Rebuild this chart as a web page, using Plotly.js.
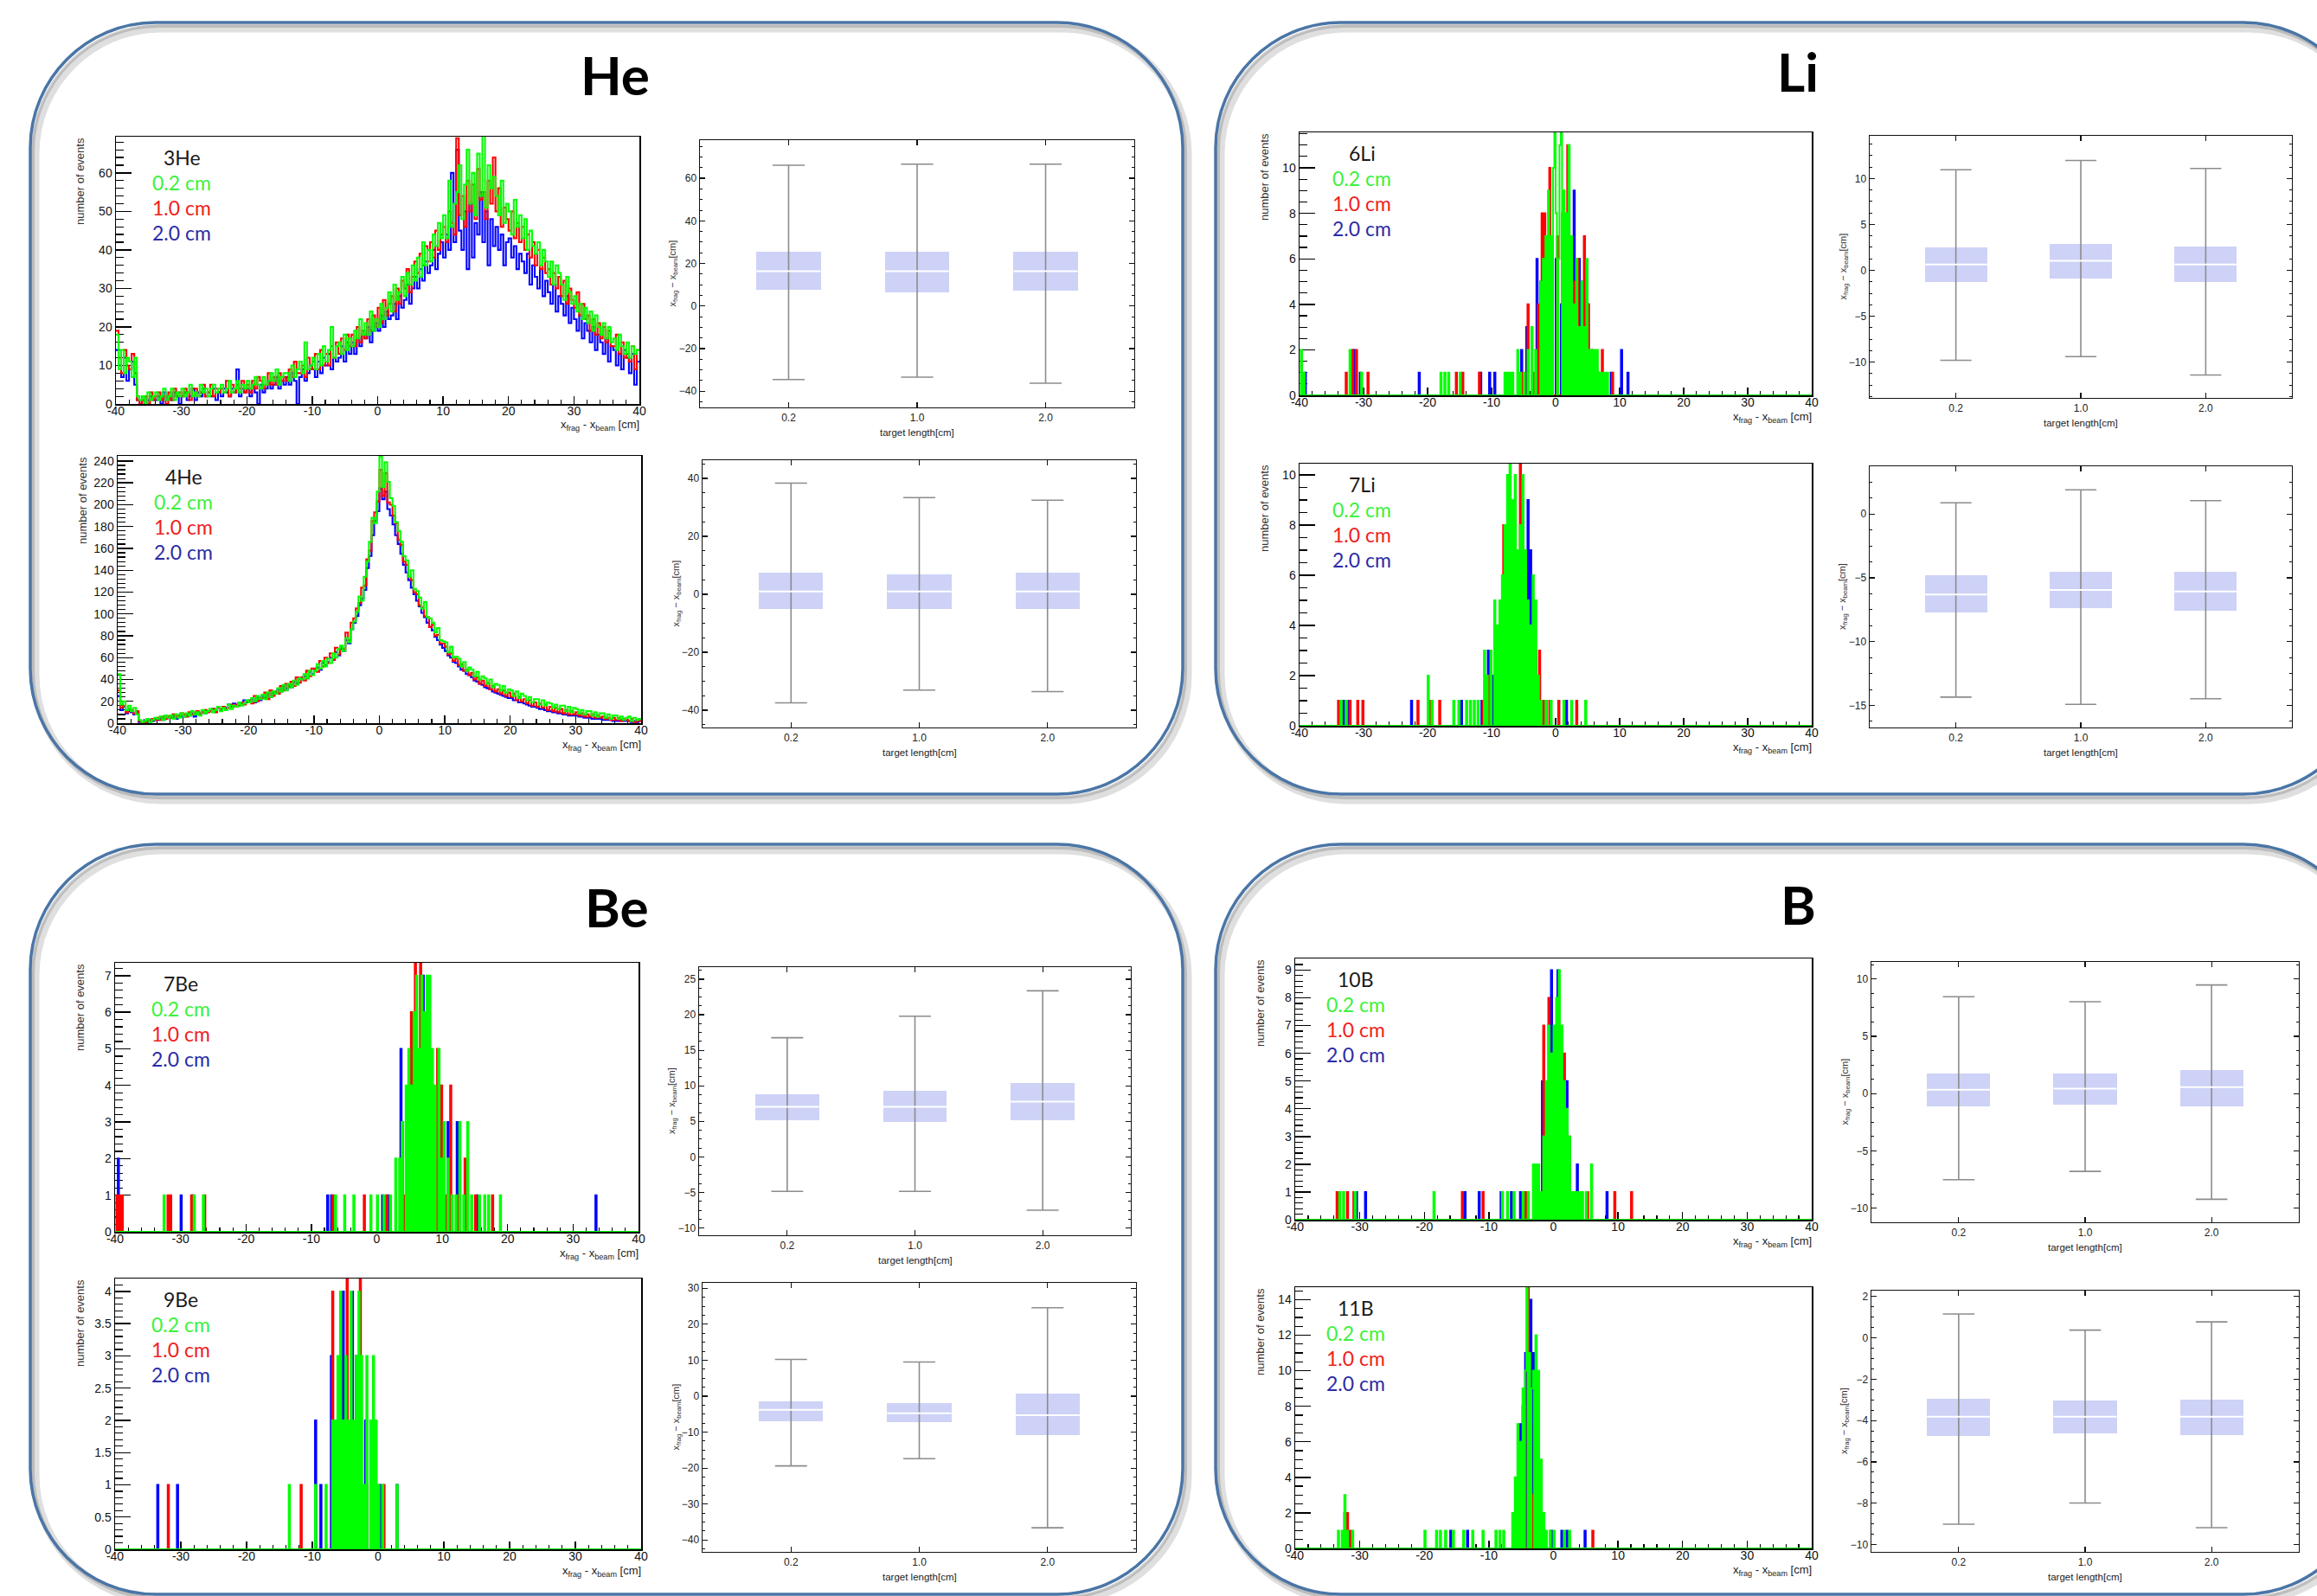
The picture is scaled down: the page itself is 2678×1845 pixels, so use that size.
<!DOCTYPE html>
<html><head><meta charset="utf-8">
<script src="https://cdn.plot.ly/plotly-3.0.1.min.js"></script>
<style>html,body{margin:0;padding:0;background:#fff}#chart{width:2678px;height:1845px}</style>
</head><body><div id="chart"></div>
<script>
// ---------------- DATA ----------------
const seriesLabels = ['0.2 cm', '1.0 cm', '2.0 cm'];
const boxCategories = ['0.2', '1.0', '2.0'];
const histXTickVals = [-40, -30, -20, -10, 0, 10, 20, 30, 40];
const histXTickText = ['-40', '-30', '-20', '-10', '0', '10', '20', '30', '40'];

// He: counts per 0.4 cm bin from -40 to 40 (200 bins, one row = 10 cm)
const he3_g = [
 18,9,14,8,12, 11,7,12,2,1, 2,0,3,1,2, 3,1,2,4,1, 2,4,1,3,2,
 4,2,3,5,2, 3,2,5,3,4, 2,4,5,3,4, 5,3,4,6,3, 4,6,3,5,4,
 6,4,5,7,5, 4,7,5,6,8, 6,9,5,7,8, 8,6,10,7,9, 11,8,16,9,10,
 12,9,13,10,15, 11,14,20,12,15, 16,13,18,14,17, 15,19,17,22,18, 21,18,24,19,22,
 20,26,22,25,29, 24,31,27,29,33, 28,34,31,36,32, 38,33,42,36,40, 37,44,41,47,43,
 49,43,58,46,52, 55,62,48,57,66, 52,60,49,65,54, 70,51,62,56,59, 54,49,58,47,52,
 50,44,53,46,49, 43,48,40,45,41, 39,42,36,40,37, 33,37,31,36,34, 31,27,33,29,26,
 28,24,26,22,25, 21,24,19,23,20, 18,21,17,20,16, 17,14,18,15,13, 16,12,15,13,14];
const he3_r = [
 19,12,8,14,10, 9,13,8,1,0, 1,2,0,3,1, 2,3,1,2,0, 3,1,4,2,3,
 2,4,3,1,4, 4,2,3,5,2, 3,5,2,4,3, 4,3,6,2,5, 3,5,4,6,3,
 5,3,6,4,7, 6,4,5,8,5, 7,5,8,6,7, 6,9,7,11,8, 8,10,7,12,9,
 11,13,9,14,10, 13,10,15,12,16, 13,17,14,18,15, 18,15,20,16,19, 17,22,19,23,20,
 25,21,27,23,26, 28,24,30,26,32, 30,35,29,33,37, 34,39,36,41,37, 42,38,45,40,44,
 46,42,50,47,44, 69,49,54,46,58, 50,57,48,61,53, 55,48,58,52,64, 50,56,46,51,48,
 45,50,43,47,42, 46,40,44,38,42, 36,40,35,38,34, 35,31,34,30,33, 28,32,26,30,27,
 25,29,23,26,22, 23,19,22,18,21, 17,20,16,19,15, 15,18,13,16,12, 13,11,15,9,14];
const he3_b = [
 14,10,7,12,6, 9,11,5,1,0, 2,0,1,2,1, 1,2,0,3,1, 2,1,3,2,0,
 2,3,1,2,4, 1,3,2,4,2, 3,2,4,1,3, 2,4,3,2,4, 3,9,2,4,3,
 4,2,5,3,0, 5,3,4,6,4, 5,7,4,6,5, 7,5,8,6,0, 7,9,6,8,10,
 9,7,11,8,12, 10,13,9,12,11, 12,15,11,16,13, 16,13,17,15,18, 17,20,16,19,21,
 19,23,20,24,22, 23,26,22,28,25, 27,31,26,30,33, 30,35,32,37,34, 36,40,35,39,42,
 38,44,40,60,42, 66,45,40,50,35, 52,38,47,44,55, 42,50,36,48,41, 46,40,44,36,42,
 43,38,41,35,39, 37,34,39,31,36, 33,30,35,28,32, 29,26,31,24,28, 26,23,28,21,25,
 22,19,23,17,21, 19,16,20,14,18, 16,13,17,11,15, 14,10,13,9,14, 12,8,13,5,11];
const he4_g = [
 45,17,20,12,16, 11,14,8,3,1, 2,4,1,3,5, 4,6,3,7,5, 7,4,8,5,9,
 6,9,7,11,8, 10,7,12,9,11, 13,10,12,15,11, 14,12,17,13,16, 15,19,16,18,21,
 19,23,20,25,22, 26,22,28,24,29, 27,32,29,35,30, 36,33,39,35,41, 40,45,41,48,44,
 48,54,50,57,52, 59,55,64,60,68, 71,66,78,74,86, 93,102,116,112,134, 148,166,188,183,212,
 244,216,239,221,206, 199,184,176,166,153, 149,134,140,123,121, 115,105,111,97,96, 92,83,87,76,75,
 74,65,70,60,61, 59,52,56,48,51, 49,43,47,40,43, 41,36,40,33,36, 35,30,34,28,31,
 30,25,29,23,27, 25,21,24,19,22, 22,17,21,16,19, 18,14,17,13,16, 16,11,15,10,14,
 13,9,12,8,11, 11,7,10,6,9, 9,5,8,4,7, 7,4,6,3,5, 6,2,5,3,4];
const he4_r = [
 30,14,16,10,13, 12,9,11,2,0, 1,3,2,4,3, 5,3,6,4,6, 5,8,6,7,9,
 8,6,10,8,9, 11,9,10,12,10, 11,13,10,14,13, 15,13,14,17,15, 17,16,19,17,20,
 21,18,25,20,23, 23,28,22,30,25, 29,27,34,30,36, 33,38,34,42,37, 42,39,48,43,50,
 50,47,57,52,60, 55,64,58,69,63, 70,68,83,76,92, 96,105,110,124,126, 150,158,185,193,203,
 232,208,229,202,200, 190,183,168,163,148, 145,134,131,120,118, 108,106,98,97,88, 90,80,81,73,73,
 70,63,64,57,59, 53,54,48,49,44, 46,40,42,36,39, 34,37,31,34,29, 31,27,30,25,28,
 24,27,21,24,20, 22,18,21,16,19, 15,18,14,17,12, 15,11,14,10,13, 9,12,8,11,8,
 10,7,9,6,8, 6,8,5,7,5, 6,4,5,3,5, 3,5,2,4,3, 2,4,1,3,2];
const he4_b = [
 25,12,15,9,11, 10,8,9,1,0, 2,1,3,2,4, 3,5,3,4,6, 5,6,4,7,6,
 6,8,7,9,6, 10,8,10,9,11, 11,13,12,14,12, 15,14,17,15,18, 17,19,18,21,19,
 20,22,19,24,21, 25,23,27,24,28, 28,31,29,34,31, 35,33,38,36,41, 40,43,41,47,45,
 48,51,49,55,53, 56,60,58,65,62, 68,66,76,73,86, 92,98,108,114,122, 142,153,172,185,194,
 215,205,212,196,190, 182,172,164,155,145, 138,131,124,118,112, 107,101,97,92,88, 85,79,76,72,69,
 66,62,60,56,55, 52,49,48,45,44, 42,39,38,36,35, 33,32,31,29,28, 27,26,25,24,23,
 23,21,21,19,19, 18,17,16,15,15, 14,13,13,12,11, 11,10,10,9,9, 8,8,7,7,7,
 7,6,6,5,5, 5,4,4,4,4, 3,3,3,3,2, 2,2,3,2,2, 2,1,2,1,2];

// Sparse histograms: [bin position (cm), events] in 0.2 cm bins
const li6_g = [[-39.8,2],[-39.4,1],[-32.2,2],[-30.4,1],[-18,1],[-17.4,1],[-16.8,1],[-15,1],[-8,1],[-7.6,1],[-7.2,1],[-6.8,1],[-6,2],[-5.6,1],[-5,1],[-4.4,2],[-3.8,3],[-3.2,2],[-2.4,5],[-2,6],[-1.6,7],[-1.2,9],[-0.8,7],[-0.4,10],[-0.2,12],[0,8],[0.4,6],[0.6,11],[0.8,12],[1.2,9],[1.6,8],[2,11],[2.4,7],[2.8,4],[3.2,6],[3.6,3],[4,5],[4.4,3],[4.8,6],[5.2,2],[5.6,2],[6,2],[6.4,2],[6.8,1],[7.2,1],[7.6,1],[8,1]];
const li6_r = [[-32.8,1],[-31.8,2],[-31.2,2],[-29.4,1],[-15.6,1],[-14.6,1],[-12,1],[-5.2,1],[-4.4,4],[-3.6,1],[-2.8,4],[-2.2,8],[-1.8,8],[-1,10],[-0.6,6],[0.2,7],[1,8],[1.4,6],[1.8,11],[2.2,7],[2.8,5],[3.4,6],[4.4,7],[5,4],[5.6,2],[6.6,1],[7.2,2],[8.8,1]];
const li6_b = [[-39.2,1],[-31.6,2],[-30.6,1],[-21.4,1],[-11.8,1],[-10.4,1],[-9.6,1],[-5.4,2],[-4.6,3],[-3,6],[-2.4,5],[-1.6,5],[-0.8,7],[0,6],[0.8,4],[1.6,3],[2.8,9],[3.6,6],[4,5],[4.6,3],[5,4],[6.6,1],[8.6,1],[10.2,2],[11.2,1]];
const li7_g = [[-33.6,1],[-32.8,1],[-20,2],[-19.4,1],[-16,1],[-15.2,1],[-14,1],[-13.4,1],[-12.8,1],[-12.2,1],[-11.2,3],[-10.8,2],[-10.2,3],[-9.6,5],[-9.2,4],[-8.8,5],[-8.4,6],[-8,8],[-7.6,10],[-7.2,11],[-6.8,9],[-6.4,10],[-6,7],[-5.6,8],[-5.2,10],[-4.8,7],[-4.4,5],[-4,4],[-3.6,6],[-3.2,5],[-2.8,2],[-2.4,1],[-1.6,1],[-0.8,1],[1.2,1],[2.4,1],[4.6,1]];
const li7_r = [[-34,1],[-32.2,1],[-31,1],[-30.2,1],[-21.6,1],[-19.6,1],[-18.2,1],[-11.4,1],[-10.4,2],[-9.6,4],[-8.8,3],[-8.2,8],[-7.8,6],[-7,5],[-6.6,9],[-6.2,4],[-5.6,11],[-5.2,10],[-4.6,5],[-4,3],[-3.2,2],[-2.6,3],[-2,1],[-1,1],[0.4,1],[3.2,1]];
const li7_b = [[-33.2,1],[-32.4,1],[-22.6,1],[-14.8,1],[-11.6,1],[-10.6,3],[-9.8,2],[-8.6,5],[-7.8,7],[-7,9],[-6.4,4],[-6,2],[-5.4,9],[-4.4,9],[-4,7],[-3.2,3],[-1.6,1],[1.6,1]];
const be7_g = [[-32.6,1],[-28,1],[-26.6,1],[-6.4,1],[-5,1],[-3.6,1],[-1,1],[0,1],[1,1],[2,1],[2.8,2],[3.4,2],[3.8,3],[4.4,4],[4.8,5],[5.2,4],[5.6,6],[6,7],[6.4,5],[6.8,7],[7.2,6],[7.6,7],[8,7],[8.4,5],[8.8,4],[9.4,5],[9.8,2],[10.2,3],[10.8,2],[11.4,1],[12,1],[12.6,3],[13.2,1],[13.8,3],[14.4,1],[15.6,1],[16.4,1],[17,1],[18.8,1]];
const be7_r = [[-39.8,1],[-39.4,1],[-39,1],[-32,1],[-31.6,1],[-28.4,1],[-26.4,1],[-6.8,1],[-2,1],[1.4,1],[3.8,3],[4.2,1],[5.2,6],[5.8,8],[6.2,3],[6.6,8],[7.2,6],[7.8,2],[8.4,4],[9.2,5],[9.8,4],[10.4,1],[11.2,4],[12.2,1],[13.4,2],[15,1],[17.6,1]];
const be7_b = [[-39.6,2],[-30,1],[-28.2,1],[-7.6,1],[-7,1],[0.8,1],[1.6,1],[3.6,5],[4.8,3],[6.2,1],[7,7],[7.8,2],[8.6,3],[10.8,3],[12.2,3],[13.6,1],[15.2,1],[33.4,1]];
const be9_g = [[-13.6,1],[-9.6,1],[-8,1],[-7,2],[-6.6,2],[-6.2,3],[-5.8,4],[-5.4,2],[-5,3],[-4.6,2],[-4.2,4],[-3.8,2],[-3.4,3],[-3,4],[-2.6,3],[-2.2,1],[-1.8,3],[-1.2,2],[-0.8,3],[-0.4,2],[0,1],[0.6,1],[2.8,1]];
const be9_r = [[-32,1],[-11.8,1],[-7,4],[-6.4,1],[-5.6,2],[-4.8,5],[-4.4,1],[-2.8,5],[-1.8,1],[-1,2],[0.8,1]];
const be9_b = [[-33.6,1],[-30.6,1],[-9.6,2],[-8.8,1],[-7.2,3],[-6,1],[-5.4,4],[-4,4],[-3.4,3],[-2,2],[-1.2,2],[0.2,1],[2.8,1]];
const b10_g = [[-33.2,1],[-32.6,1],[-30.8,1],[-18.6,1],[-8,1],[-7.2,1],[-6.2,1],[-4.8,1],[-4,1],[-3.2,2],[-2.8,2],[-2.4,2],[-2,1],[-1.6,3],[-1.2,5],[-0.8,7],[-0.4,6],[0,7],[0.4,8],[0.8,9],[1.2,7],[1.6,5],[2,4],[2.4,3],[2.8,1],[3.2,1],[3.6,1],[4,1],[4.4,1],[5,1],[5.8,2]];
const b10_r = [[-33.6,1],[-32,1],[-31,1],[-14.2,1],[-11,1],[-4.4,1],[-3,1],[-2.4,1],[-1.6,7],[-1.2,4],[-0.8,8],[-0.2,6],[0.4,7],[1,6],[1.6,6],[2.4,3],[3,1],[5.2,1],[9.4,1],[12,1]];
const b10_b = [[-30.6,1],[-29.2,1],[-13.8,1],[-11.6,1],[-8.2,1],[-6.6,1],[-5.2,1],[-3,2],[-1.8,5],[-1.4,2],[-0.4,9],[0.2,6],[0.6,9],[1.2,3],[2,5],[3.6,2],[4.2,1],[8.2,1]];
const b11_g = [[-33.4,1],[-32.8,1],[-32.4,3],[-32,1],[-31.2,1],[-20,1],[-18.2,1],[-17.6,1],[-16.8,1],[-15.6,1],[-14,1],[-12.6,1],[-11,1],[-9,1],[-8.4,1],[-7.8,1],[-6.4,2],[-6,4],[-5.6,7],[-5.2,6],[-4.8,9],[-4.4,10],[-4.2,15],[-3.8,11],[-3.4,9],[-3.2,10],[-2.8,12],[-2.4,10],[-2,5],[-1.6,2],[-1.2,1],[-0.6,1],[0,1],[1.6,1],[2.4,1]];
const b11_r = [[-32,2],[-31.6,1],[-6.2,2],[-5.6,3],[-5,5],[-4.6,8],[-4,15],[-3.6,7],[-3.4,3],[-3,9],[-2.6,5],[-2,1],[6,1]];
const b11_b = [[-32.4,2],[-16,1],[-13.4,1],[-5.8,3],[-5.2,7],[-4.8,8],[-4.4,11],[-4,12],[-3.6,14],[-3.2,11],[-2.8,5],[-2.4,3],[-0.4,1],[1.2,1],[2,1],[4.8,1]];

// Box-whisker statistics (x_frag - x_beam, cm) for target lengths 0.2 / 1.0 / 2.0 cm
const he3_lo = [-34.5,-33.4,-36.2], he3_q1 = [7.8,6.5,7.1], he3_med = [16.4,16.4,16.4], he3_q3 = [25.5,25.5,25.5], he3_hi = [66.1,66.6,66.6];
const he4_lo = [-37.5,-33.1,-33.6], he4_q1 = [-5.2,-5.2,-5.2], he4_med = [1.0,1.0,1.0], he4_q3 = [7.5,7.0,7.5], he4_hi = [38.4,33.4,32.5];
const li6_lo = [-9.8,-9.4,-11.4], li6_q1 = [-1.3,-0.9,-1.3], li6_med = [0.64,1.04,0.64], li6_q3 = [2.5,2.9,2.6], li6_hi = [10.95,11.96,11.1];
const li7_lo = [-14.35,-14.92,-14.48], li7_q1 = [-7.72,-7.4,-7.56], li7_med = [-6.31,-5.95,-6.07], li7_q3 = [-4.83,-4.54,-4.54], li7_hi = [0.88,1.89,1.05];
const be7_lo = [-4.85,-4.85,-7.5], be7_q1 = [5.17,4.97,5.17], be7_med = [7.03,7.03,7.78], be7_q3 = [8.87,9.35,10.39], be7_hi = [16.77,19.8,23.37];
const be9_lo = [-19.4,-17.4,-36.6], be9_q1 = [-6.9,-7.3,-10.85], be9_med = [-3.8,-4.75,-5.3], be9_q3 = [-1.36,-1.9,0.8], be9_hi = [10.2,9.5,24.6];
const b10_lo = [-7.52,-6.79,-9.23], b10_q1 = [-1.15,-0.94,-1.15], b10_med = [0.34,0.43,0.56], b10_q3 = [1.79,1.79,2.09], b10_hi = [8.46,8.03,9.49];
const b11_lo = [-9.01,-7.99,-9.18], b11_q1 = [-4.76,-4.64,-4.72], b11_med = [-3.82,-3.82,-3.82], b11_q3 = [-2.94,-3.04,-2.99], b11_hi = [1.15,0.37,0.77];

// ---------------- LAYOUT CONFIG ----------------
const W = 2678, H = 1845;
const seriesColors = ['#00ff00', '#ff0000', '#0000ff'];
const legendColors = ['#3cf23c', '#f02020', '#2b2ba6'];
const FONT = 'Liberation Sans, Arial, sans-serif';
const LFONT = 'Lato, Open Sans, sans-serif';

const panelTitles = [
  {t:'He', x:711, y:86}, {t:'Li', x:2078, y:82}, {t:'Be', x:713, y:1048}, {t:'B', x:2078, y:1045}
];
const panelBoxes = [[35,26,1367,918],[1405,26,2738,918],[35,976,1367,1843],[1405,976,2738,1843]];

const hists = [
  {label:'3He', series:[he3_g,he3_r,he3_b], bw:0.4, rect:[134,158,739,467], ymax:69.4, dtick:10, minor:2, ldx:76},
  {label:'4He', series:[he4_g,he4_r,he4_b], bw:0.4, rect:[136,527,741,836], ymax:244.7, dtick:20, minor:4, ldx:76},
  {label:'6Li', series:[li6_g,li6_r,li6_b], bw:0.2, sparse:true, rect:[1502,153,2094,457], ymax:11.56, dtick:2, minor:0.5, ldx:72},
  {label:'7Li', series:[li7_g,li7_r,li7_b], bw:0.2, sparse:true, rect:[1502,536,2094,839], ymax:10.45, dtick:2, minor:0.5, ldx:72},
  {label:'7Be', series:[be7_g,be7_r,be7_b], bw:0.2, sparse:true, rect:[133,1113,738,1424], ymax:7.35, dtick:1, minor:0.2, ldx:76},
  {label:'9Be', series:[be9_g,be9_r,be9_b], bw:0.2, sparse:true, rect:[133,1478,741,1791], ymax:4.2, dtick:0.5, minor:0.1, ldx:76},
  {label:'10B', series:[b10_g,b10_r,b10_b], bw:0.2, sparse:true, rect:[1497,1108,2094,1410], ymax:9.42, dtick:1, minor:0.2, ldx:70},
  {label:'11B', series:[b11_g,b11_r,b11_b], bw:0.2, sparse:true, rect:[1497,1488,2094,1790], ymax:14.7, dtick:2, minor:0.5, ldx:70}
];
const boxes = [
  {st:[he3_lo,he3_q1,he3_med,he3_q3,he3_hi], rect:[809,162,1311,471], yr:[-47.6,77.9], dtick:20},
  {st:[he4_lo,he4_q1,he4_med,he4_q3,he4_hi], rect:[812,532,1313,841], yr:[-46,46.3], dtick:20},
  {st:[li6_lo,li6_q1,li6_med,li6_q3,li6_hi], rect:[2161,157,2649,460], yr:[-13.9,14.65], dtick:5},
  {st:[li7_lo,li7_q1,li7_med,li7_q3,li7_hi], rect:[2161,539,2649,841], yr:[-16.73,3.74], dtick:5},
  {st:[be7_lo,be7_q1,be7_med,be7_q3,be7_hi], rect:[808,1118,1307,1428], yr:[-11.03,26.7], dtick:5},
  {st:[be9_lo,be9_q1,be9_med,be9_q3,be9_hi], rect:[812,1483,1313,1794], yr:[-43.3,31.5], dtick:10},
  {st:[b10_lo,b10_q1,b10_med,b10_q3,b10_hi], rect:[2163,1112,2657,1413], yr:[-11.24,11.5], dtick:5},
  {st:[b11_lo,b11_q1,b11_med,b11_q3,b11_hi], rect:[2163,1492,2657,1794], yr:[-10.35,2.28], dtick:2}
];

// ---------------- BUILD ----------------
const traces = [];
const layout = {
  width:W, height:H, margin:{l:0,r:0,t:0,b:0}, paper_bgcolor:'#ffffff', plot_bgcolor:'rgba(0,0,0,0)',
  showlegend:false, shapes:[], annotations:[], bargap:0, barmode:'overlay'
};
const px = x => x / W, py = y => 1 - y / H;
function P(x,y){ return px(x).toFixed(6)+','+py(y).toFixed(6); }
function rr(x0,y0,x1,y1,r){
  const k = 0.5523*r;
  return 'M'+P(x0+r,y0)+' L'+P(x1-r,y0)+' C'+P(x1-r+k,y0)+' '+P(x1,y0+r-k)+' '+P(x1,y0+r)+
    ' L'+P(x1,y1-r)+' C'+P(x1,y1-r+k)+' '+P(x1-r+k,y1)+' '+P(x1-r,y1)+
    ' L'+P(x0+r,y1)+' C'+P(x0+r-k,y1)+' '+P(x0,y1-r+k)+' '+P(x0,y1-r)+
    ' L'+P(x0,y0+r)+' C'+P(x0,y0+r-k)+' '+P(x0+r-k,y0)+' '+P(x0+r,y0)+' Z';
}
panelBoxes.forEach(b => {
  layout.shapes.push({type:'path', xref:'paper', yref:'paper', layer:'below', path:rr(b[0]+6,b[1]+7,b[2]+6,b[3]+7,145), line:{color:'rgba(110,110,110,0.22)', width:9}});
  layout.shapes.push({type:'path', xref:'paper', yref:'paper', layer:'below', path:rr(b[0]+3,b[1]+4,b[2]+3,b[3]+4,145), line:{color:'rgba(110,110,110,0.3)', width:4}});
  layout.shapes.push({type:'path', xref:'paper', yref:'paper', layer:'below', path:rr(b[0],b[1],b[2],b[3],145), line:{color:'#4a75a6', width:3.5}});
});
function ann(text, x, y, o){
  layout.annotations.push(Object.assign({text:text, xref:'paper', yref:'paper', x:px(x), y:py(y), showarrow:false,
    xanchor:'center', yanchor:'middle', font:{family:FONT, size:14, color:'#222'}}, o||{}));
}
panelTitles.forEach(p => ann('<b>'+p.t+'</b>', p.x, p.y, {font:{family:LFONT, size:62, color:'#000'}}));

let axN = 0;
function newAxes(){ axN++; const s = axN===1 ? '' : String(axN); return {xa:'xaxis'+s, ya:'yaxis'+s, x:'x'+s, y:'y'+s}; }

hists.forEach(h => {
  const a = newAxes(), r = h.rect, w = h.bw, nb = Math.round(80/w);
  layout[a.xa] = {domain:[px(r[0]),px(r[2])], anchor:a.y, range:[-40,40], showline:true, mirror:true, linecolor:'#000', linewidth:1.5,
    ticks:'inside', ticklen:9, tickwidth:1.4, tickcolor:'#000', tickmode:'array', tickvals:histXTickVals, ticktext:histXTickText,
    ticklabelstandoff:-5,
    minor:{tick0:-40, dtick:2, ticks:'inside', ticklen:5, tickwidth:1.2, tickcolor:'#000'},
    showgrid:false, zeroline:false, tickfont:{family:FONT, size:14, color:'#111'}, layer:'below traces', fixedrange:true};
  layout[a.ya] = {domain:[py(r[3]),py(r[1])], anchor:a.x, range:[0,h.ymax], showline:true, mirror:true, linecolor:'#000', linewidth:1.5,
    ticks:'inside', ticklen:18, tickwidth:1.4, tickcolor:'#000', tick0:0, dtick:h.dtick,
    minor:{tick0:0, dtick:h.minor, ticks:'inside', ticklen:9, tickwidth:1.2, tickcolor:'#000'},
    showgrid:false, zeroline:false, tickfont:{family:FONT, size:14, color:'#111'}, layer:'below traces', fixedrange:true};
  // draw blue first, green last (on top)
  [2,1,0].forEach(si => {
    const d = h.series[si];
    let counts;
    if (!h.sparse) { counts = d.slice(0, nb); while (counts.length < nb) counts.push(0); }
    else { counts = new Array(nb).fill(0); d.forEach(([x,n]) => { const i = Math.round((x+40)/w); if (i>=0 && i<nb) counts[i] += n; }); }
    const xs = [], ys = [];
    counts.forEach((c,i) => { xs.push(-40 + i*w); ys.push(c); });
    xs.push(40); ys.push(counts[counts.length-1]);
    traces.push({type:'scatter', mode:'lines', x:xs, y:ys, xaxis:a.x, yaxis:a.y, hoverinfo:'skip',
      line:{shape:'hv', color:seriesColors[si], width:h.sparse ? 2 : 2.1}});
  });
  const lx = r[0] + h.ldx, ly = r[1] + 24;
  ann(h.label, lx, ly, {font:{family:LFONT, size:23, color:'#1a1a1a'}});
  seriesLabels.forEach((s,i) => ann(s, lx, ly + 29*(i+1), {font:{family:LFONT, size:23, color:legendColors[i]}}));
  ann('number of events', r[0]-41, r[1]+52, {textangle:-90, font:{family:FONT, size:13, color:'#333'}});
  ann('x<sub>frag</sub> - x<sub>beam</sub> [cm]', r[2]+2, r[3]+25, {xanchor:'right', font:{family:FONT, size:13, color:'#222'}});
});

boxes.forEach(b => {
  const a = newAxes(), r = b.rect;
  layout[a.xa] = {domain:[px(r[0]),px(r[2])], anchor:a.y, range:[-0.69,2.69], showline:true, mirror:'allticks', linecolor:'#111', linewidth:1.4,
    ticks:'inside', ticklen:6, tickwidth:1.2, tickcolor:'#111', tickmode:'array', tickvals:[0,1,2], ticktext:boxCategories,
    showgrid:false, zeroline:false, tickfont:{family:FONT, size:12, color:'#222'}, fixedrange:true};
  layout[a.ya] = {domain:[py(r[3]),py(r[1])], anchor:a.x, range:b.yr, showline:true, mirror:'allticks', linecolor:'#111', linewidth:1.4,
    ticks:'inside', ticklen:6, tickwidth:1.2, tickcolor:'#111', tick0:0, dtick:b.dtick,
    minor:{tick0:0, dtick:b.dtick/4, ticks:'inside', ticklen:3, tickwidth:1, tickcolor:'#111'},
    showgrid:false, zeroline:false, tickfont:{family:FONT, size:12, color:'#222'}, fixedrange:true};
  const [lo,q1,med,q3,hi] = b.st;
  const wx = [], wy = [], mx = [], my = [];
  boxCategories.forEach((c,i) => {
    wx.push(i, i, null, i-0.125, i+0.125, null, i-0.125, i+0.125, null);
    wy.push(lo[i], hi[i], null, hi[i], hi[i], null, lo[i], lo[i], null);
    mx.push(i-0.25, i+0.25, null); my.push(med[i], med[i], null);
  });
  traces.push({type:'scatter', mode:'lines', x:wx, y:wy, xaxis:a.x, yaxis:a.y, hoverinfo:'skip', line:{color:'#8c8c8c', width:1.6}});
  traces.push({type:'bar', x:[0,1,2], base:q1, y:q3.map((v,i)=>v-q1[i]), width:0.5, xaxis:a.x, yaxis:a.y, hoverinfo:'skip',
    marker:{color:'#cdd2f6', line:{width:0}}});
  traces.push({type:'scatter', mode:'lines', x:mx, y:my, xaxis:a.x, yaxis:a.y, hoverinfo:'skip', line:{color:'#ffffff', width:2}});
  ann('x<sub>frag</sub> − x<sub>beam</sub>[cm]', r[0]-31, (r[1]+r[3])/2, {textangle:-90, font:{family:FONT, size:11, color:'#333'}});
  ann('target length[cm]', (r[0]+r[2])/2, r[3]+29, {font:{family:FONT, size:11.5, color:'#222'}});
});

Plotly.newPlot('chart', traces, layout, {staticPlot:true, displayModeBar:false});
</script></body></html>
